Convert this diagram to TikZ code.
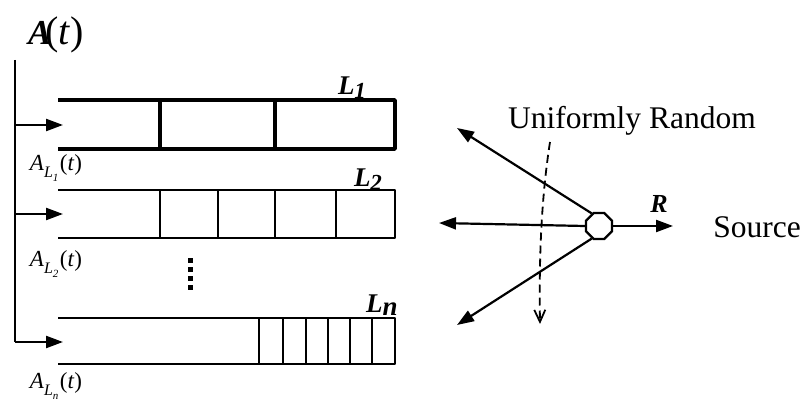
\documentclass[tikz,border=0pt]{standalone}
\usepackage{fontspec}
\setmainfont{Liberation Serif}
\usetikzlibrary{arrows.meta,shapes.geometric}
\newcommand{\ALsub}[1]{\textit{A}\raisebox{-0.3em}{\fontsize{16}{17}\selectfont\textit{L}\raisebox{-0.25em}{\fontsize{11}{12}\selectfont\textit{#1}}}\kern1.5pt(\textit{t})}
\newcommand{\Lsub}[1]{\textbf{\textit{L}}\raisebox{-0.15em}{\fontsize{23}{25}\selectfont\textbf{\textit{#1}}}}
\tikzset{
 arr/.style={line width=2.2pt,-{Triangle[length=17pt,width=12pt]}},
 qthick/.style={line width=3.4pt,line join=round},
 qthin/.style={line width=2.4pt,line join=round},
 lbl/.style={font=\fontsize{31.5}{36}\selectfont, inner sep=0pt},
 qlbl/.style={font=\fontsize{27}{30}\selectfont, inner sep=0pt},
 albl/.style={font=\fontsize{23}{26}\selectfont, inner sep=0pt},
 dotm/.style={rectangle, fill=black, inner sep=0pt, minimum size=5pt},
}
\begin{document}
\begin{tikzpicture}[x=1pt,y=-1pt]
\useasboundingbox (0,0) rectangle (804,406);
% top label
\node[inner sep=0pt] (At) at (56,35) {\fontsize{35}{40}\selectfont\textbf{\textit{A}}\kern-0.18em\fontsize{40}{44}\selectfont(\textit{t})};
% distribution line
\coordinate (vtop) at (15,60);
\coordinate (v1) at (15,125);
\coordinate (v2) at (15,214);
\coordinate (vn) at (15,342);
\coordinate (q1in) at (63,125);
\coordinate (q2in) at (63,214);
\coordinate (qnin) at (63,342);
\draw[line width=2.2pt] (vtop) -- (vn);
\draw[arr] (v1) -- (q1in);
\draw[arr] (v2) -- (q2in);
\draw[arr] (vn) -- (qnin);
% queue 1
\draw[qthick] (58,100) -- (395,100) -- (395,149) -- (58,149);
\draw[qthick] (160,100) -- (160,149) (275,100) -- (275,149);
% queue 2
\draw[qthin] (58,190) -- (395,190) -- (395,238) -- (58,238);
\foreach \x in {160,218,275,336} \draw[qthin] (\x,190) -- (\x,238);
% queue n
\draw[qthin] (58,318) -- (395,318) -- (395,364) -- (58,364);
\foreach \x in {259,283,306,328,350,372} \draw[qthin] (\x,318) -- (\x,364);
% queue labels
\node[qlbl] (L1) at (352,88) {\Lsub{1}};
\node[qlbl] (L2) at (368,180) {\Lsub{2}};
\node[qlbl] (Ln) at (382,305) {\textbf{\textit{L}}\raisebox{-0.1em}{\textbf{\textit{n}}}};
\node[albl] (A1) at (56,168) {\ALsub{1}};
\node[albl] (A2) at (56,264) {\ALsub{2}};
\node[albl] (An) at (56,386) {\ALsub{n}};
% vertical dots
\foreach \y/\n in {261/a,270/b,279/c,288/d} \node[dotm] (dot\n) at (190,\y) {};
% source side
\node[regular polygon, regular polygon sides=8, draw, line width=2.2pt, minimum size=28pt, inner sep=0pt] (src) at (599,226) {};
\coordinate (t1) at (457,128);
\coordinate (t2) at (439,223);
\coordinate (t3) at (457,325);
\coordinate (tR) at (673,226);
\draw[arr] (src.120) -- (t1);
\draw[arr] (src.west) -- (t2);
\draw[arr] (src.240) -- (t3);
\draw[arr] (src.east) -- (tR);
\node[font=\fontsize{26}{28}\selectfont, inner sep=0pt] (R) at (659,204) {\textbf{\textit{R}}};
\node[lbl] (srclbl) at (757,227) {Source};
\node[lbl] (uni) at (632,121) {Uniformly Random};
\coordinate (d0) at (550,142);
\coordinate (d1) at (540,324);
\draw[line width=1.8pt, dash pattern=on 8pt off 5pt, -{Straight Barb[length=12pt,width=11pt]}] (d0) .. controls (541,200) and (539,260) .. (d1);
\end{tikzpicture}
\end{document}
